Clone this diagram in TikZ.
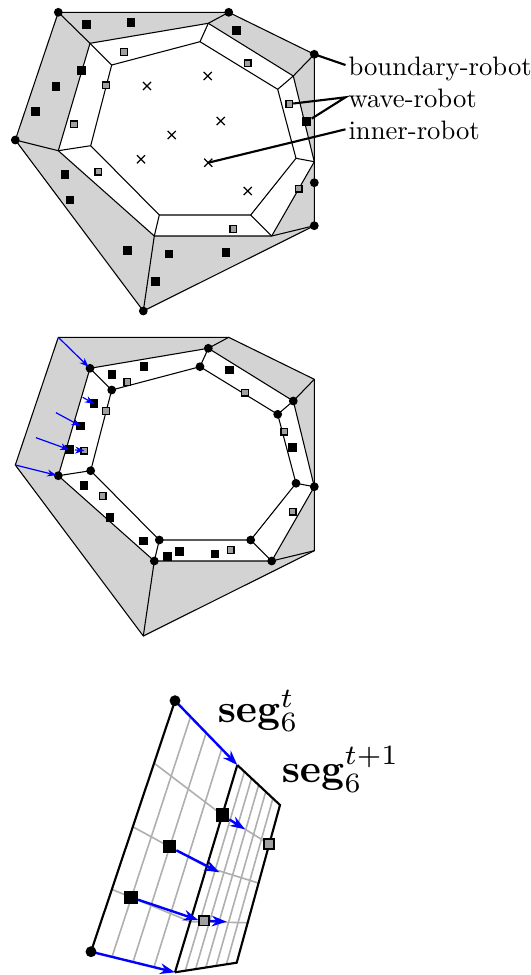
\documentclass[tikz,border=0pt]{standalone}
\usetikzlibrary{arrows.meta,shapes.misc,calc}
\definecolor{bandgray}{RGB}{211,211,211}
\definecolor{sqgray}{RGB}{160,160,160}
\definecolor{gridgray}{RGB}{175,175,175}
\newcommand{\defring}[1]{%
  \coordinate (#1A1) at (58.3,12.3);
  \coordinate (#1A2) at (228.7,12.3);
  \coordinate (#1A3) at (314.3,54.3);
  \coordinate (#1A4) at (314.3,182.7);
  \coordinate (#1A5) at (314.3,225.7);
  \coordinate (#1A6) at (143.3,311);
  \coordinate (#1A7) at (15.3,140);
  \coordinate (#1B1) at (90,43.3);
  \coordinate (#1B2) at (208.3,23.3);
  \coordinate (#1B3) at (293.3,76);
  \coordinate (#1B4) at (314.3,161.7);
  \coordinate (#1B5) at (271.7,236);
  \coordinate (#1B6) at (154.3,236);
  \coordinate (#1B7) at (58.3,150.7);
  \coordinate (#1C1) at (111.7,65);
  \coordinate (#1C2) at (200,41.7);
  \coordinate (#1C3) at (277.7,89.3);
  \coordinate (#1C4) at (296,158.3);
  \coordinate (#1C5) at (250.7,215);
  \coordinate (#1C6) at (159.3,215);
  \coordinate (#1C7) at (90.7,145.7);
}
\newcommand{\drawring}[1]{%
  \fill[bandgray,even odd rule] (#1A1)--(#1A2)--(#1A3)--(#1A5)--(#1A6)--(#1A7)--cycle
     (#1B1)--(#1B2)--(#1B3)--(#1B4)--(#1B5)--(#1B6)--(#1B7)--cycle;
  \draw[thinl] (#1A1)--(#1A2)--(#1A3)--(#1A5)--(#1A6)--(#1A7)--cycle;
  \draw[thinl] (#1B1)--(#1B2)--(#1B3)--(#1B4)--(#1B5)--(#1B6)--(#1B7)--cycle;
  \draw[thinl] (#1C1)--(#1C2)--(#1C3)--(#1C4)--(#1C5)--(#1C6)--(#1C7)--cycle;
  \foreach \k in {1,...,7} {\draw[thinl] (#1B\k)--(#1C\k);}
}
\tikzset{
  thinl/.style={line width=0.4pt},
  bdot/.style={circle,fill=black,inner sep=0pt,minimum size=3.3pt},
  bsq/.style={rectangle,fill=black,inner sep=0pt,minimum size=3.3pt},
  gsq/.style={rectangle,fill=sqgray,draw=black,line width=0.45pt,inner sep=0pt,minimum size=2.5pt},
  xmark/.style={cross out,draw=black,line width=0.45pt,inner sep=0pt,minimum size=2.6pt},
  lbl/.style={anchor=base west,inner sep=0pt},
  lblline/.style={line width=0.8pt},
  barrow/.style={blue,line width=0.45pt,-{Stealth[length=3.4pt,width=2.6pt]}},
  Barrow/.style={blue,line width=0.9pt,-{Stealth[length=5.6pt,width=4pt]}},
  gridl/.style={draw=gridgray,line width=0.6pt},
  segedge/.style={line width=0.8pt},
  Bdot/.style={bdot,minimum size=4.1pt},
  Bbsq/.style={bsq,minimum size=4.9pt},
  Bgsq/.style={gsq,minimum size=3.6pt,line width=0.6pt},
}
\begin{document}
\begin{tikzpicture}[x=0.375pt,y=-0.375pt]
\useasboundingbox (0,0) rectangle (531,975);

% ---------------- top diagram ----------------
\defring{t}
\drawring{t}
\draw[thinl] (tA1)--(tB1) (tA2)--(tB2) (tA3)--(tB3) (tA5)--(tB5) (tA6)--(tB6) (tA7)--(tB7);
\foreach \p [count=\i] in {{86.7,24.3},{131,22.7},{236.7,30.7},{81.7,70.7},{56,86.7},{35.7,111.7},{306.7,121.7},{65,174.3},{70,200},{127.7,250.7},{169,254},{226,252.7},{155.7,281.7}}
  \node[bsq] (tb\i) at (\p) {};
\foreach \p [count=\i] in {{124,52},{247.7,63.3},{106,85.3},{289.3,104},{74,124.3},{98.3,171.7},{298.7,188.7},{233.3,229}}
  \node[gsq] (tg\i) at (\p) {};
\foreach \p [count=\i] in {{147,86},{207.7,76},{220.7,121},{171.7,135},{141,159.3},{208.3,162.7},{247.7,191}}
  \node[xmark] (tx\i) at (\p) {};
\foreach \k in {1,...,7} {\node[bdot] (tdot\k) at (tA\k) {};}

\node[lbl] (lboundary) at (348,75) {boundary-robot};
\node[lbl] (lwave) at (348,107) {wave-robot};
\node[lbl] (linner) at (348,139.3) {inner-robot};
\coordinate (lbB) at (345.5,65);
\coordinate (lbW) at (345.5,97.3);
\coordinate (lbI) at (345.5,129.3);
\draw[lblline] (tdot3.center) -- (lbB);
\draw[lblline] (tg4) -- (lbW) -- (tb7);
\draw[lblline] (tx6.center) -- (lbI);

% ---------------- middle diagram ----------------
\begin{scope}[shift={(0,325)}]
\defring{m}
\end{scope}
\drawring{m}
\draw[thinl] (mA2)--(mB2) (mA3)--(mB3) (mA5)--(mB5) (mA6)--(mB6);
\foreach \p [count=\i] in {{144,366.7},{112,374.3},{229.3,370},{94,403.7},{80.7,426},{69.3,449.7},{292.7,447.7},{84,485.7},{110,517.7},{143.7,541},{167.7,556.7},{179.7,551.3},{215,554}}
  \node[bsq] (mb\i) at (\p) {};
\foreach \p [count=\i] in {{127.3,382},{245,392.7},{106,411},{284.3,431.7},{84.3,450.7},{102.7,496},{292.7,511.7},{230.7,550}}
  \node[gsq] (mg\i) at (\p) {};
\foreach \k in {1,...,7} {\node[bdot] (mdb\k) at (mB\k) {}; \node[bdot] (mdc\k) at (mC\k) {};}
\coordinate (ma2) at (82.7,397.3);
\coordinate (ma3) at (56,412.7);
\coordinate (ma4) at (36,437.7);
\coordinate (ma5) at (75,450);
\draw[barrow,shorten >=0.8pt] (mA1) -- (mB1);
\draw[barrow] (ma2) -- (mb4.center);
\draw[barrow] (ma3) -- (mb5.center);
\draw[barrow] (ma4) -- (mb6.center);
\draw[barrow] (ma5) -- (mg5.center);
\draw[barrow,shorten >=0.8pt] (mA7) -- (mB7);

% ---------------- bottom diagram ----------------
\coordinate (G1) at (175,700.7);
\coordinate (G2) at (91,951.7);
\coordinate (Mt) at (237.3,765);
\coordinate (Mb) at (175,972.3);
\coordinate (R1) at (280,805);
\coordinate (R2) at (236.7,962.7);
\coordinate (h1L) at (154.3,763.3);
\coordinate (h1M) at (222.3,815);
\coordinate (h1R) at (269,844);
\coordinate (h2L) at (132.7,826.7);
\coordinate (h2M) at (206.7,867);
\coordinate (h2R) at (259.3,883.3);
\coordinate (h3L) at (111.7,889.3);
\coordinate (h3M) at (190.3,921.7);
\coordinate (h3R) at (247.7,922.7);
\foreach \k in {1,2,3} {\draw[gridl] ($(G1)!\k/4!(Mt)$) -- ($(G2)!\k/4!(Mb)$);}
\foreach \k in {1,...,5} {\draw[gridl] ($(Mt)!\k/6!(R1)$) -- ($(Mb)!\k/6!(R2)$);}
\draw[gridl] (h1L) -- (h1M) -- (h1R);
\draw[gridl] (h2L) -- (h2M) -- (h2R);
\draw[gridl] (h3L) -- (h3M) -- (h3R);
\draw[segedge] (G1) -- (G2);
\draw[segedge] (Mt) -- (Mb);
\draw[segedge] (Mt) -- (R1) -- (R2) -- (Mb);
\node[Bbsq] (bb1) at (222.3,815) {};
\node[Bbsq] (bb2) at (169.3,846.7) {};
\node[Bbsq] (bb3) at (131,897.3) {};
\node[Bgsq] (bg1) at (269,844) {};
\node[Bgsq] (bg2) at (204,920.7) {};
\coordinate (bt1) at (245,829.3);
\coordinate (bt2) at (219.3,872.3);
\coordinate (bt3) at (198.3,920);
\coordinate (bt4) at (226.7,921.7);
\draw[Barrow] (bb1) -- (bt1);
\draw[Barrow] (bb2) -- (bt2);
\draw[Barrow] (bb3) -- (bt3);
\draw[Barrow] (bg2) -- (bt4);
\draw[Barrow] (G1) -- (Mt);
\draw[Barrow] (G2) -- (Mb);
\node[Bdot] (gd1) at (G1) {};
\node[Bdot] (gd2) at (G2) {};
\node[lbl,scale=1.5] (seg1) at (217,722) {$\mathbf{seg}_6^{t}$};
\node[lbl,scale=1.5] (seg2) at (281,782) {$\mathbf{seg}_6^{t+1}$};
\end{tikzpicture}
\end{document}
